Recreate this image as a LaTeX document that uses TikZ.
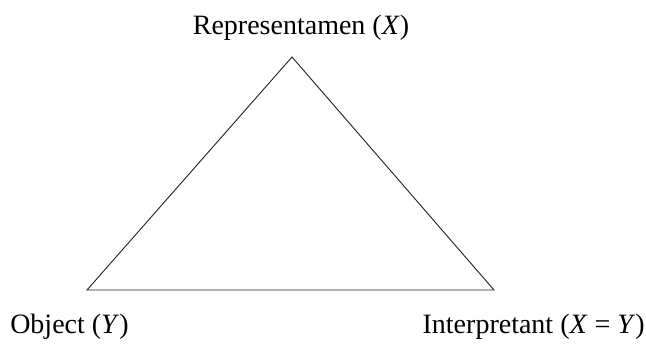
\documentclass[tikz,border=0pt]{standalone}
\usepackage{fontspec}
\setmainfont{Liberation Serif}
\begin{document}
\begin{tikzpicture}[x=0.75pt, y=-0.75pt,
  label text/.style={font=\fontsize{21}{25}\selectfont, inner sep=0pt}]

  % picture frame, 646 x 345 px
  \useasboundingbox (0,0) rectangle (646,345);

  % Triangle corners
  \coordinate (repr) at (292,57);
  \coordinate (obj)  at (87,290);
  \coordinate (intp) at (494,290);

  % Triangle
  \draw[line width=0.7pt, black!85] (repr) -- (obj) -- (intp) -- cycle;

  % Corner labels
  \node[label text, anchor=base]      (reprlabel) at (301,35)  {Representamen (\textit{X})};
  \node[label text, anchor=base west] (objlabel)  at (10,333)  {Object (\textit{Y})};
  \node[label text, anchor=base east] (intplabel) at (645,333) {Interpretant (\textit{X}~=~\textit{Y})};
\end{tikzpicture}
\end{document}
